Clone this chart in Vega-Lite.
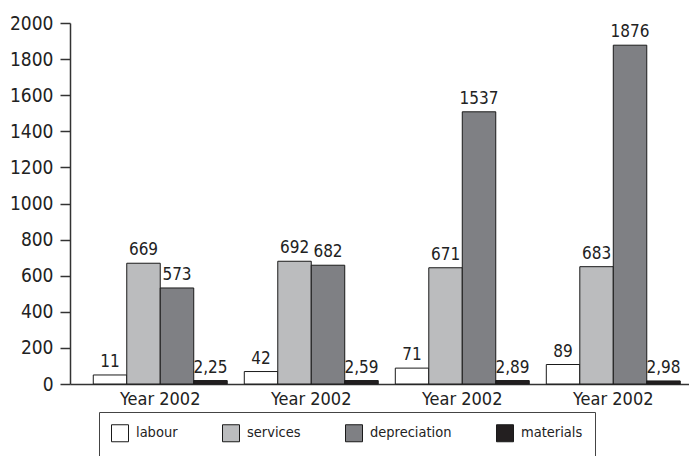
{
  "$schema": "https://vega.github.io/schema/vega-lite/v6.json",
  "width": 619,
  "height": 361,
  "autosize": "none",
  "padding": {"left": 70, "top": 23, "right": 0, "bottom": 72},
  "background": "white",
  "config": {
    "view": {"stroke": null},
    "font": "'DejaVu Sans Condensed', 'Liberation Sans', sans-serif",
    "axis": {"grid": false, "title": null}
  },
  "data": {
    "values": [
      {"group": "g1", "year": "Year 2002", "cost": "labour", "value": 50, "label": "11"},
      {"group": "g1", "year": "Year 2002", "cost": "services", "value": 669, "label": "669"},
      {"group": "g1", "year": "Year 2002", "cost": "depreciation", "value": 532, "label": "573"},
      {"group": "g1", "year": "Year 2002", "cost": "materials", "value": 19, "label": "2,25"},
      {"group": "g2", "year": "Year 2002", "cost": "labour", "value": 69, "label": "42"},
      {"group": "g2", "year": "Year 2002", "cost": "services", "value": 680, "label": "692"},
      {"group": "g2", "year": "Year 2002", "cost": "depreciation", "value": 658, "label": "682"},
      {"group": "g2", "year": "Year 2002", "cost": "materials", "value": 19, "label": "2,59"},
      {"group": "g3", "year": "Year 2002", "cost": "labour", "value": 88, "label": "71"},
      {"group": "g3", "year": "Year 2002", "cost": "services", "value": 644, "label": "671"},
      {"group": "g3", "year": "Year 2002", "cost": "depreciation", "value": 1508, "label": "1537"},
      {"group": "g3", "year": "Year 2002", "cost": "materials", "value": 19, "label": "2,89"},
      {"group": "g4", "year": "Year 2002", "cost": "labour", "value": 108, "label": "89"},
      {"group": "g4", "year": "Year 2002", "cost": "services", "value": 650, "label": "683"},
      {"group": "g4", "year": "Year 2002", "cost": "depreciation", "value": 1877, "label": "1876"},
      {"group": "g4", "year": "Year 2002", "cost": "materials", "value": 17, "label": "2,98"}
    ]
  },
  "encoding": {
    "x": {
      "field": "group",
      "type": "nominal",
      "scale": {"paddingInner": 0.113, "paddingOuter": 0.106, "align": 0.727},
      "axis": {
        "labelExpr": "'Year 2002'",
        "labelAngle": 0,
        "ticks": false,
        "labelFontSize": 18,
        "labelColor": "#222",
        "labelPadding": 6,
        "domainColor": "#333",
        "domainWidth": 1.5
      }
    },
    "xOffset": {
      "field": "cost",
      "type": "nominal",
      "sort": ["labour", "services", "depreciation", "materials"],
      "scale": {"paddingInner": 0, "paddingOuter": 0}
    },
    "y": {
      "field": "value",
      "type": "quantitative",
      "scale": {"domain": [0, 2000], "nice": false},
      "axis": {
        "values": [0, 200, 400, 600, 800, 1000, 1200, 1400, 1600, 1800, 2000],
        "format": "d",
        "tickSize": 10,
        "tickColor": "#333",
        "tickWidth": 1.5,
        "domainColor": "#333",
        "domainWidth": 1.5,
        "labelFontSize": 19,
        "labelColor": "#222",
        "labelPadding": 7
      }
    }
  },
  "layer": [
    {
      "mark": {"type": "bar", "stroke": "#1a1a1a", "strokeWidth": 1, "fillOpacity": 1},
      "encoding": {
        "color": {
          "field": "cost",
          "type": "nominal",
          "sort": ["labour", "services", "depreciation", "materials"],
          "scale": {
            "domain": ["labour", "services", "depreciation", "materials"],
            "range": ["#ffffff", "#bbbcbe", "#7f8084", "#231f20"]
          },
          "legend": {
            "orient": "none",
            "legendX": 29,
            "legendY": 389,
            "direction": "horizontal",
            "columns": 4,
            "title": null,
            "symbolType": "square",
            "symbolSize": 289,
            "symbolStrokeColor": "#1a1a1a",
            "symbolStrokeWidth": 1,
            "symbolOffset": 0,
            "labelFontSize": 14.5,
            "labelColor": "#222",
            "labelOffset": 7,
            "columnPadding": 42,
            "strokeColor": "#444",
            "padding": 12,
            "fillColor": "white"
          }
        }
      }
    },
    {
      "mark": {"type": "text", "baseline": "bottom", "dy": -4, "fontSize": 17, "color": "#222"},
      "encoding": {
        "text": {"field": "label", "type": "nominal"}
      }
    }
  ]
}
